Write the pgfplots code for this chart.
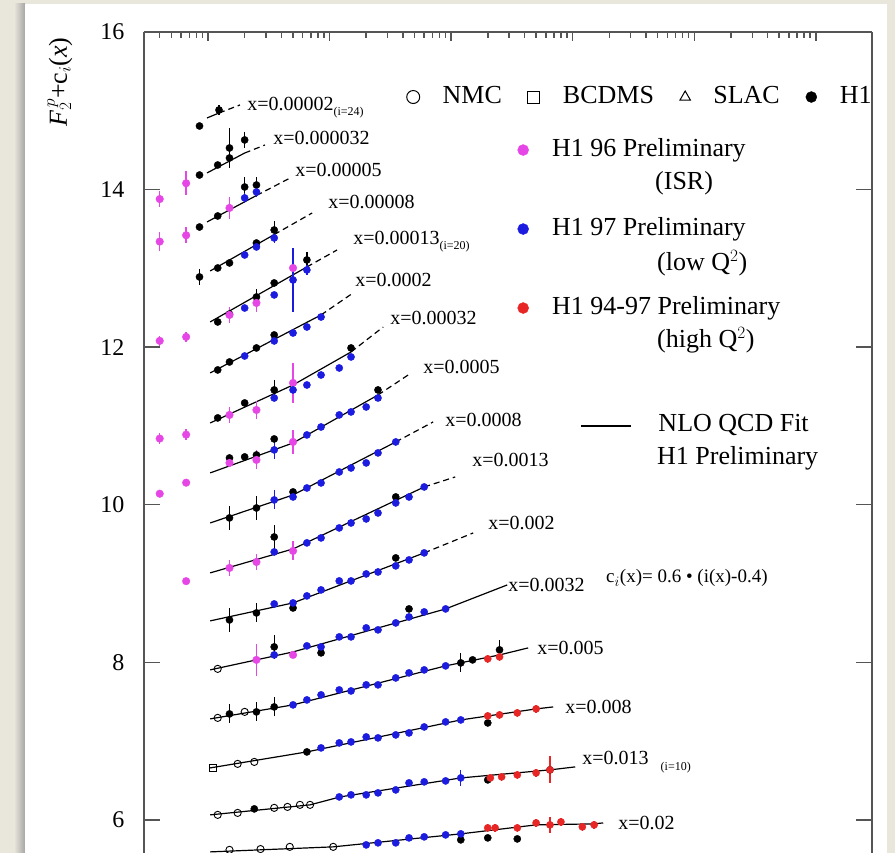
\documentclass[border=0pt]{standalone}
\usepackage{fontspec}
\setmainfont{Liberation Serif}
\usepackage{pgfplots}
\usepackage{pgfplotstable}
\pgfplotsset{compat=1.18}

\definecolor{bgbeige}{RGB}{233,230,219}
\definecolor{mag}{RGB}{230,70,230}
\definecolor{hblue}{RGB}{28,28,225}
\definecolor{hred}{RGB}{232,38,38}
\definecolor{axgray}{RGB}{85,85,85}

\newcommand{\lab}{\fontsize{20}{20}\selectfont}
\newcommand{\sublab}{\fontsize{12}{12}\selectfont}
\newcommand{\leg}{\fontsize{26}{26}\selectfont}

% H1 (black filled)
\pgfplotstableread{
q v e
0.85 14.807 0
1.23 15.010 0.06
0.85 14.185 0
1.2 14.312 0
1.5 14.401 0
1.5 14.528 0.25
2.0 14.630 0.1
0.85 13.525 0
1.2 13.665 0
2.0 14.033 0.13
2.5 14.058 0.1
0.85 12.891 0.1
1.2 13.005 0
1.5 13.069 0
2.5 13.322 0
3.5 13.487 0.12
1.2 12.320 0
1.5 12.420 0
2.5 12.637 0.1
3.5 12.815 0
6.5 13.107 0.1
1.2 11.711 0
1.5 11.812 0
2.5 11.990 0
3.5 12.155 0
1.2 11.102 0
2.0 11.292 0
3.5 11.457 0.12
15 11.990 0
1.5 10.594 0
2.0 10.607 0
2.5 10.632 0
3.5 10.835 0
25 11.457 0
1.5 9.833 0.15
2.5 9.959 0.15
5 10.163 0
3.5 9.591 0.15
35 10.099 0
1.5 8.538 0.15
2.5 8.627 0.12
5 8.690 0
35 9.325 0
3.5 8.196 0.15
8.5 8.120 0
45 8.678 0
1.5 7.345 0.12
2.5 7.371 0.12
3.5 7.434 0.12
120 7.993 0.12
150 8.031 0
250 8.158 0.12
6.5 6.863 0
200 7.231 0
2.4 6.140 0
200 6.508 0
650 6.635 0.17
120 5.747 0
200 5.772 0
350 5.759 0
}\tblack

% H1 96 Preliminary (ISR)
\pgfplotstableread{
q v e
0.40 13.88 0.1
0.66 14.08 0.15
0.40 13.34 0.12
0.66 13.42 0.1
0.40 12.08 0.06
0.66 12.13 0.06
0.40 10.84 0.07
0.66 10.89 0.07
0.40 10.14 0
0.66 10.28 0
0.66 9.03 0
1.5 13.767 0.14
1.5 12.409 0.1
2.5 12.561 0.12
5 13.005 0
1.5 11.140 0.1
2.5 11.203 0.12
5 11.546 0.25
1.5 10.531 0
2.5 10.569 0.12
5 10.797 0.15
1.5 9.198 0.1
2.5 9.274 0.1
5 9.414 0.12
2.5 8.031 0.2
5 8.094 0
}\tmag

% H1 97 Preliminary (low Q2)
\pgfplotstableread{
q v e
2.0 13.894 0.06
2.5 13.970 0.06
2.0 13.170 0
2.5 13.272 0
3.5 13.386 0.06
2.0 12.497 0
3.5 12.663 0
5 12.853 0.41
6.5 12.980 0.06
2.0 11.888 0
3.5 12.079 0
5 12.180 0
6.5 12.256 0
8.5 12.383 0
3.5 11.355 0
5 11.457 0
6.5 11.520 0
8.5 11.647 0
12 11.736 0
15 11.876 0
3.5 10.696 0.12
6.5 10.886 0
8.5 10.987 0
12 11.140 0
15 11.178 0
20 11.241 0
25 11.355 0
3.5 10.061 0.12
5 10.099 0
6.5 10.213 0
8.5 10.277 0
12 10.416 0
15 10.467 0
20 10.531 0
25 10.658 0
35 10.797 0
3.5 9.401 0
6.5 9.516 0
8.5 9.579 0
12 9.706 0
15 9.769 0
20 9.820 0
25 9.896 0
35 10.023 0
45 10.099 0
60 10.226 0
3.5 8.741 0
5 8.754 0
6.5 8.843 0
8.5 8.919 0
12 9.033 0
15 9.033 0
20 9.122 0
25 9.147 0
35 9.224 0
45 9.300 0
60 9.389 0
3.5 8.094 0
6.5 8.209 0
8.5 8.196 0
12 8.323 0
15 8.323 0
20 8.437 0
25 8.412 0
35 8.500 0
45 8.576 0
60 8.640 0
90 8.678 0
5 7.460 0
6.5 7.523 0
8.5 7.587 0
12 7.650 0
15 7.637 0
20 7.714 0
25 7.714 0
35 7.802 0
45 7.866 0
60 7.904 0
90 7.955 0
8.5 6.914 0
12 6.977 0
15 6.990 0
20 7.053 0
25 7.041 0
35 7.079 0
45 7.104 0
60 7.180 0
90 7.244 0
120 7.269 0
12 6.292 0
15 6.318 0
20 6.318 0
25 6.343 0
35 6.381 0
45 6.470 0
60 6.483 0
90 6.495 0
120 6.533 0.1
20 5.683 0
25 5.709 0
35 5.709 0
45 5.772 0
60 5.785 0
90 5.810 0
120 5.823 0
}\tblue

% H1 94-97 Preliminary (high Q2)
\pgfplotstableread{
q v e
200 8.044 0.05
250 8.069 0.05
200 7.320 0.05
250 7.333 0.05
350 7.358 0.05
500 7.409 0.05
210 6.533 0.05
260 6.546 0.05
350 6.571 0.05
500 6.597 0.05
650 6.635 0.17
200 5.899 0.05
230 5.899 0.05
350 5.899 0.05
500 5.962 0.05
650 5.937 0.1
800 5.975 0.05
1200 5.912 0.05
1500 5.937 0.05
}\tred

% NMC
\pgfplotstableread{
q v
1.2 7.917
1.2 7.295
2.0 7.371
1.75 6.711
2.4 6.736
1.2 6.064
1.75 6.089
3.5 6.153
4.5 6.165
5.7 6.191
6.9 6.191
1.5 5.620
2.7 5.630
4.7 5.658
10.7 5.658
}\tnmc

% BCDMS
\pgfplotstableread{
q v
1.1 6.660
}\tbcdms

\pgfplotsset{
  dotleg/.style={legend image code/.code={\draw[##1] plot coordinates {(0pt,0pt)};}},
  lineleg/.style={legend image code/.code={\draw[##1] (0pt,0pt) -- (50pt,0pt);}},
  frame/.style={at={(144pt,-32pt)}, anchor=north west, scale only axis,
    width=728pt, height=821pt},
  fit/.style={black, line width=1.2pt, forget plot},
  lead/.style={black, line width=1.2pt, dash pattern=on 6pt off 4pt, forget plot},
  leadS/.style={black, line width=1.2pt, forget plot},
}

\begin{document}
\begin{tikzpicture}[x=1pt,y=1pt]
\fill[bgbeige] (0,0) rectangle (895,-853);
\shade[left color=bgbeige, right color=black!35] (14,-4) rectangle (25,-853);
\fill[white] (25,-4) rectangle (887,-853);

\begin{axis}[frame,
  xmode=log, xmin=0.297, xmax=2.9e5, ymin=5.58, ymax=16,
  axis x line=top, axis y line=box,
  every outer x axis line/.append style={-},
  every outer y axis line/.append style={-},
  axis line style={axgray, line width=1.6pt, -},
  tick style={axgray, line width=1.5pt},
  tick align=inside,
  major tick length=9pt, minor tick length=6pt,
  xticklabel style={opacity=0},
  ytick=\empty,
  minor ytick={6.5,7,7.5,8.5,9,9.5,10.5,11,11.5,12.5,13,13.5,14.5,15,15.5},
  extra y ticks={6,8,10,12,14,16},
  extra y tick style={major tick length=16pt},
  yticklabel style={font=\fontsize{24}{24}\selectfont, xshift=-16pt},
  /pgf/number format/assume math mode=true,
  clip=false,
  legend columns=4,
  legend cell align=left,
  legend style={draw=none, fill=none, font=\leg, inner sep=0pt,
    at={(0.3606,0.9208)}, anchor=west,
    nodes={inner sep=1pt, text height=18pt, text depth=6pt},
    /tikz/every odd column/.append style={column sep=22pt},
    /tikz/every even column/.append style={column sep=25pt}},
]
\addlegendimage{only marks, mark=o, mark size=6.5pt, black, line width=1pt, dotleg}
\addlegendentry{NMC}
\addlegendimage{only marks, mark=square, mark size=6pt, black, line width=1pt, dotleg}
\addlegendentry{BCDMS}
\addlegendimage{only marks, mark=triangle, mark size=6pt, black, line width=1pt, dotleg}
\addlegendentry{SLAC}
\addlegendimage{only marks, mark=*, mark size=5.5pt, black, dotleg}
\addlegendentry{H1}

% ---- NLO QCD fit curves (solid) and label leaders ----
\addplot[fit] coordinates {(0.98,14.909) (1.23,14.972)};
\addplot[lead] coordinates {(1.23,14.972) (1.83,15.074)};
\addplot[fit] coordinates {(0.98,14.211) (2.0,14.464)};
\addplot[lead] coordinates {(2.0,14.464) (2.94,14.566)};
\addplot[fit] coordinates {(0.98,13.589) (2.5,13.925)};
\addplot[lead] coordinates {(2.5,13.925) (4.73,14.147)};
\addplot[fit] coordinates {(1.04,12.967) (3.5,13.429)};
\addplot[lead] coordinates {(3.5,13.429) (7.18,13.703)};
\addplot[fit] coordinates {(1.04,12.320) (6.5,13.018)};
\addplot[lead] coordinates {(6.5,13.018) (11.5,13.233)};
\addplot[fit] coordinates {(1.04,11.673) (8.5,12.409)};
\addplot[lead] coordinates {(8.5,12.409) (15.6,12.688)};
\addplot[fit] coordinates {(1.04,11.038) (5,11.520) (15,11.939)};
\addplot[lead] coordinates {(15,11.939) (27.6,12.256)};
\addplot[fit] coordinates {(1.04,10.404) (5,10.784) (25,11.393)};
\addplot[lead] coordinates {(25,11.393) (44.3,11.647)};
\addplot[fit] coordinates {(1.04,9.769) (5,10.124) (35,10.797)};
\addplot[lead] coordinates {(35,10.797) (71.1,11.051)};
\addplot[fit] coordinates {(1.04,9.135) (5,9.439) (60,10.226)};
\addplot[lead] coordinates {(60,10.226) (107.9,10.353)};
\addplot[fit] coordinates {(1.04,8.526) (5,8.754) (60,9.389)};
\addplot[lead] coordinates {(60,9.389) (151.7,9.642)};
\addplot[fit] coordinates {(1.04,7.904) (5,8.132) (90,8.678)};
\addplot[leadS] coordinates {(90,8.678) (289,8.982)};
\addplot[fit] coordinates {(1.04,7.282) (5,7.460) (90,7.955) (250,8.094)};
\addplot[leadS] coordinates {(250,8.094) (430,8.183)};
\addplot[fit] coordinates {(1.04,6.660) (6.5,6.863) (120,7.269) (500,7.409)};
\addplot[leadS] coordinates {(500,7.409) (691,7.434)};
\addplot[fit] coordinates {(1.04,6.064) (6.9,6.191) (12.2,6.292) (120,6.533) (650,6.635)};
\addplot[leadS] coordinates {(650,6.635) (1049,6.673)};
\addplot[fit] coordinates {(1.04,5.594) (10.7,5.658) (120,5.823) (500,5.937) (1500,5.950)};
\addplot[leadS] coordinates {(1500,5.950) (1783,5.962)};

% ---- data ----
\addplot[only marks, mark=o, mark size=3.6pt, black, line width=0.9pt, forget plot]
  table[x=q, y=v] {\tnmc};
\addplot[only marks, mark=square, mark size=3.4pt, black, line width=0.9pt, forget plot]
  table[x=q, y=v] {\tbcdms};
\addplot[only marks, mark=*, mark size=3.6pt, black, forget plot,
  error bars/.cd, y dir=both, y explicit, error mark=none,
  error bar style={black, line width=1.4pt}]
  table[x=q, y=v, y error=e] {\tblack};
\addplot[only marks, mark=*, mark size=3.8pt, mag, forget plot,
  error bars/.cd, y dir=both, y explicit, error mark=none,
  error bar style={mag, line width=1.4pt}]
  table[x=q, y=v, y error=e] {\tmag};
\addplot[only marks, mark=*, mark size=3.6pt, hblue, forget plot,
  error bars/.cd, y dir=both, y explicit, error mark=none,
  error bar style={hblue, line width=1.4pt}]
  table[x=q, y=v, y error=e] {\tblue};
\addplot[only marks, mark=*, mark size=3.6pt, hred, forget plot,
  error bars/.cd, y dir=both, y explicit, error mark=none,
  error bar style={hred, line width=1.4pt}]
  table[x=q, y=v, y error=e] {\tred};

% ---- curve labels ----
\begin{scope}[every node/.style={anchor=west, inner sep=0pt, font=\lab}]
\node at (axis cs:2.094,15.035) {x=0.00002{\sublab\raisebox{-5pt}{(i=24)}}};
\node at (axis cs:3.43,14.655) {x=0.000032};
\node at (axis cs:5.2,14.249) {x=0.00005};
\node at (axis cs:9.72,13.843) {x=0.00008};
\node at (axis cs:15.6,13.335) {x=0.00013{\sublab\raisebox{-5pt}{(i=20)}}};
\node at (axis cs:16.2,12.853) {x=0.0002};
\node at (axis cs:31.5,12.371) {x=0.00032};
\node at (axis cs:58.9,11.749) {x=0.0005};
\node at (axis cs:89.3,11.076) {x=0.0008};
\node at (axis cs:148.9,10.569) {x=0.0013};
\node at (axis cs:201.6,9.769) {x=0.002};
\node at (axis cs:294.5,8.982) {x=0.0032};
\node at (axis cs:510,8.183) {x=0.005};
\node at (axis cs:867,7.434) {x=0.008};
\node at (axis cs:1197,6.736) {x=0.013\hspace{12pt}{\sublab\raisebox{-6pt}{(i=10)}}};
\node at (axis cs:2366,5.962) {x=0.02};
\end{scope}

% ---- legend second lines and annotation ----
\begin{scope}[every node/.style={anchor=west, inner sep=0pt, font=\leg}]
\node at (rel axis cs:0.7019,0.8161) {(ISR)};
\node at (rel axis cs:0.7047,0.7186) {(low Q$^{2}$)};
\node at (rel axis cs:0.7047,0.6249) {(high Q$^{2}$)};
\node at (rel axis cs:0.7047,0.4811) {H1 Preliminary};
\end{scope}
\node[anchor=west, inner sep=0pt, font=\fontsize{19}{19}\selectfont]
  at (rel axis cs:0.6346,0.3350) {c$_{i}$(x)= 0.6 \textbullet{} (i(x)-0.4)};
\node[rotate=90, inner sep=0pt, font=\fontsize{26}{26}\selectfont]
  at (rel axis cs:-0.1154,0.939) {\textit{F}$_{2}^{\,p}$+c$_{i}$(\textit{x})};
\end{axis}

% second legend (H1 preliminary data sets)
\begin{axis}[frame, hide axis, xmin=0, xmax=1, ymin=0, ymax=1,
  legend cell align=left,
  legend style={draw=none, fill=none, font=\leg, inner sep=0pt,
    at={(0.513,0.760)}, anchor=west, row sep=53pt,
    nodes={inner sep=1pt, text height=18pt, text depth=6pt},
    /tikz/every odd column/.append style={column sep=22.5pt}},
]
\addlegendimage{only marks, mark=*, mark size=5.5pt, mag, dotleg}
\addlegendentry{H1 96 Preliminary}
\addlegendimage{only marks, mark=*, mark size=5.5pt, hblue, dotleg}
\addlegendentry{H1 97 Preliminary}
\addlegendimage{only marks, mark=*, mark size=5.5pt, hred, dotleg}
\addlegendentry{H1 94-97 Preliminary}
\end{axis}

% third legend (fit line)
\begin{axis}[frame, hide axis, xmin=0, xmax=1, ymin=0, ymax=1,
  legend cell align=left,
  legend style={draw=none, fill=none, font=\leg, inner sep=0pt,
    at={(0.599,0.5201)}, anchor=west,
    nodes={inner sep=1pt, text height=18pt, text depth=6pt},
    /tikz/every odd column/.append style={column sep=26pt}},
]
\addlegendimage{black, line width=1.2pt, lineleg}
\addlegendentry{NLO QCD Fit}
\end{axis}

\pgfresetboundingbox
\useasboundingbox (0,0) rectangle (895,-853);
\end{tikzpicture}
\end{document}
